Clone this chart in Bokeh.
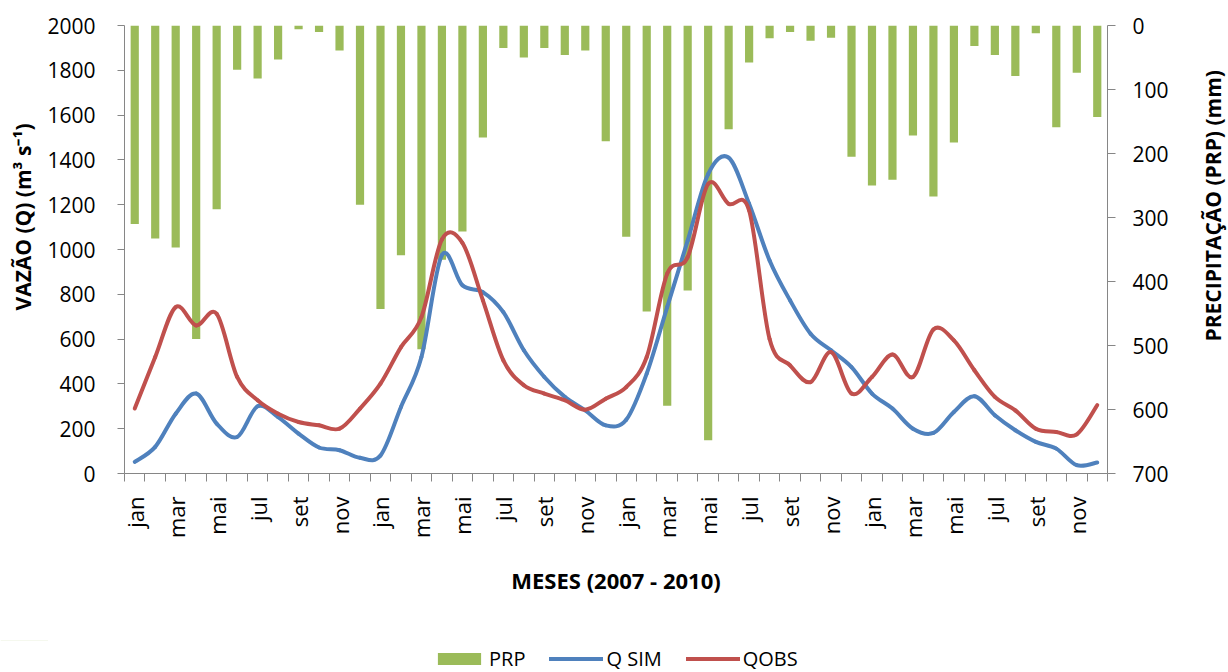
import numpy as np
from math import pi
from bokeh.plotting import figure
from bokeh.layouts import row, column
from bokeh.models import (Range1d, LinearAxis, FixedTicker, Legend, LegendItem,
                          Label, ColumnDataSource)
from bokeh.embed import file_html
from bokeh.resources import INLINE

# Monthly series, jan 2007 .. dec 2010
tick_months = ["jan", "mar", "mai", "jul", "set", "nov"]
years = [2007, 2008, 2009, 2010]

prp = [310, 333, 347, 490, 287, 69, 83, 53, 6, 10, 39, 280,
       443, 359, 506, 366, 322, 175, 35, 50, 35, 46, 39, 181,
       330, 447, 594, 414, 648, 162, 58, 20, 10, 24, 19, 205,
       250, 241, 172, 267, 183, 32, 46, 79, 12, 159, 74, 143]

q_sim = [52, 119, 267, 357, 223, 163, 300, 252, 178, 116, 104, 70,
         80, 297, 520, 975, 840, 810, 720, 550, 431, 342, 282, 215,
         240, 446, 743, 1040, 1337, 1410, 1204, 951, 773, 624, 550, 475,
         357, 290, 200, 181, 275, 345, 260, 193, 141, 111, 37, 49]

q_obs = [290, 520, 743, 661, 713, 431, 327, 267, 230, 215, 200, 290,
         401, 564, 698, 1045, 1030, 773, 505, 394, 357, 327, 285, 334,
         386, 520, 892, 966, 1293, 1204, 1174, 600, 483, 408, 542, 357,
         431, 531, 431, 643, 594, 461, 342, 282, 200, 185, 175, 305]

FONT = "Open Sans"
GREEN, BLUE, RED = "#9BBB59", "#4F81BD", "#C0504D"
AXIS_GREY = "#868686"

# page geometry (pixels)
TOTAL_W, CHART_H, LEGEND_H = 1228, 640, 32
SIDE_W = 38
FRAME_TOP, FRAME_BOTTOM = 25, 473

n = len(prp)
idx = np.arange(n, dtype=float)


def smooth_segments(values):
    """Cubic Bezier segments (Catmull-Rom style) through the monthly values."""
    x = idx
    y = np.asarray(values, dtype=float)
    xp = np.concatenate([[x[0]], x, [x[-1]]])
    yp = np.concatenate([[y[0]], y, [y[-1]]])
    m = len(x)
    return ColumnDataSource(dict(
        x0=x[:-1], y0=y[:-1], x1=x[1:], y1=y[1:],
        cx0=x[:-1] + (x[1:] - xp[0:m - 1]) / 6.0,
        cy0=y[:-1] + (y[1:] - yp[0:m - 1]) / 6.0,
        cx1=x[1:] - (xp[3:m + 2] - x[:-1]) / 6.0,
        cy1=y[1:] - (yp[3:m + 2] - y[:-1]) / 6.0,
    ))


def blank_figure(width, height, y_range=None):
    f = figure(width=width, height=height, output_backend="svg", toolbar_location=None,
               x_range=Range1d(0, width), y_range=y_range or Range1d(0, height),
               x_axis_type=None, y_axis_type=None,
               min_border=0, background_fill_color="white", border_fill_color="white")
    f.outline_line_color = None
    return f


def title_strip(text, start_y):
    """Narrow strip beside the chart holding a bottom-to-top title that starts
    at page height start_y. Its frame lines up with the chart frame, and its
    y range counts page pixels from the bottom of the strip."""
    f = figure(width=SIDE_W, height=CHART_H, output_backend="svg", toolbar_location=None,
               x_range=Range1d(0, SIDE_W),
               y_range=Range1d(CHART_H - FRAME_BOTTOM, CHART_H - FRAME_TOP),
               x_axis_type=None, y_axis_type=None,
               min_border_left=0, min_border_right=0,
               min_border_top=FRAME_TOP, min_border_bottom=CHART_H - FRAME_BOTTOM,
               background_fill_color="white", border_fill_color="white")
    f.outline_line_color = None
    f.add_layout(Label(x=22, y=CHART_H - start_y, text=text, angle=pi / 2,
                       text_font=FONT, text_font_style="bold", text_font_size="21px",
                       text_color="black", text_align="left", text_baseline="middle"))
    return f


p = figure(width=TOTAL_W - 2 * SIDE_W, height=CHART_H,
           output_backend="svg", toolbar_location=None,
           x_range=Range1d(-0.5, n - 0.5), y_range=Range1d(0, 2000),
           min_border_left=124 - SIDE_W, min_border_right=121 - SIDE_W,
           min_border_top=FRAME_TOP, min_border_bottom=CHART_H - FRAME_BOTTOM,
           background_fill_color="white", border_fill_color="white")
p.outline_line_color = None
p.grid.visible = False

# precipitation on its own inverted axis (0 at the top)
p.extra_y_ranges = {"prp": Range1d(700, 0)}

p.vbar(x=idx, top=0, bottom=prp, width=0.4, y_range_name="prp",
       fill_color=GREEN, line_color=None)
p.bezier(x0="x0", y0="y0", x1="x1", y1="y1", cx0="cx0", cy0="cy0",
         cx1="cx1", cy1="cy1", source=smooth_segments(q_sim),
         line_color=BLUE, line_width=4, line_cap="round")
p.bezier(x0="x0", y0="y0", x1="x1", y1="y1", cx0="cx0", cy0="cy0",
         cx1="cx1", cy1="cy1", source=smooth_segments(q_obs),
         line_color=RED, line_width=4, line_cap="round")

# x axis: labels every other month, small ticks between months
xax = p.xaxis[0]
label_pos = list(range(0, n, 2))
xax.ticker = FixedTicker(ticks=label_pos,
                         minor_ticks=[i - 0.5 for i in range(n + 1)])
xax.major_label_overrides = {i: tick_months[(i // 2) % 6] for i in label_pos}
xax.major_label_orientation = pi / 2
xax.major_tick_line_color = None
xax.major_tick_out = 0
xax.major_tick_in = 0
xax.minor_tick_out = 8
xax.minor_tick_in = 0
xax.minor_tick_line_color = AXIS_GREY
xax.major_label_standoff = 15
xax.major_label_text_font = FONT
xax.major_label_text_font_size = "22px"
xax.major_label_text_color = "black"
xax.axis_line_color = AXIS_GREY
xax.axis_label = f"MESES ({years[0]} - {years[-1]})"
xax.axis_label_standoff = 24
xax.axis_label_text_font = FONT
xax.axis_label_text_font_style = "bold"
xax.axis_label_text_font_size = "22px"
xax.axis_label_text_color = "black"

# left axis: discharge
yax = p.yaxis[0]
yax.ticker = FixedTicker(ticks=list(range(0, 2001, 200)))
yax.major_tick_out = 7
yax.major_tick_in = 0
yax.minor_tick_line_color = None
yax.major_label_standoff = 22
yax.major_label_text_font = FONT
yax.major_label_text_font_size = "21px"
yax.major_label_text_color = "black"
yax.axis_line_color = AXIS_GREY
yax.major_tick_line_color = AXIS_GREY

# right axis: precipitation
rax = LinearAxis(y_range_name="prp", ticker=FixedTicker(ticks=list(range(0, 701, 100))))
rax.major_tick_out = 8
rax.major_tick_in = 0
rax.minor_tick_line_color = None
rax.major_label_standoff = 17
rax.major_label_text_font = FONT
rax.major_label_text_font_size = "21px"
rax.major_label_text_color = "black"
rax.axis_line_color = AXIS_GREY
rax.major_tick_line_color = AXIS_GREY
p.add_layout(rax, "right")

# vertical axis titles, both reading bottom to top
left_strip = title_strip("VAZÃO (Q) (m³ s⁻¹)", 310)
right_strip = title_strip("PRECIPITAÇÃO (PRP) (mm)", 341)

# legend strip along the bottom; its swatch renderers carry the same series
# but sit far outside this strip's visible window
leg = blank_figure(TOTAL_W, LEGEND_H, y_range=Range1d(-LEGEND_H - 5000, -5000))
r_prp = leg.vbar(x=idx, top=0, bottom=prp, width=0.4, fill_color=GREEN, line_color=None)
r_sim = leg.line(x=idx, y=q_sim, line_color=BLUE, line_width=4, line_cap="round")
r_obs = leg.line(x=idx, y=q_obs, line_color=RED, line_width=4, line_cap="round")
legend = Legend(items=[LegendItem(label="PRP", renderers=[r_prp]),
                       LegendItem(label="Q SIM", renderers=[r_sim]),
                       LegendItem(label="QOBS", renderers=[r_obs])],
                orientation="horizontal", location=(432, 0),
                glyph_width=54, glyph_height=15, label_standoff=3, spacing=24,
                padding=0, margin=0, border_line_color=None,
                background_fill_alpha=0,
                label_text_font=FONT, label_text_font_size="20px",
                label_text_color="black")
leg.add_layout(legend, "center")

page = column(row(left_strip, p, right_strip, spacing=0), leg, spacing=0)
open("out.html", "w").write(file_html(page, INLINE))
